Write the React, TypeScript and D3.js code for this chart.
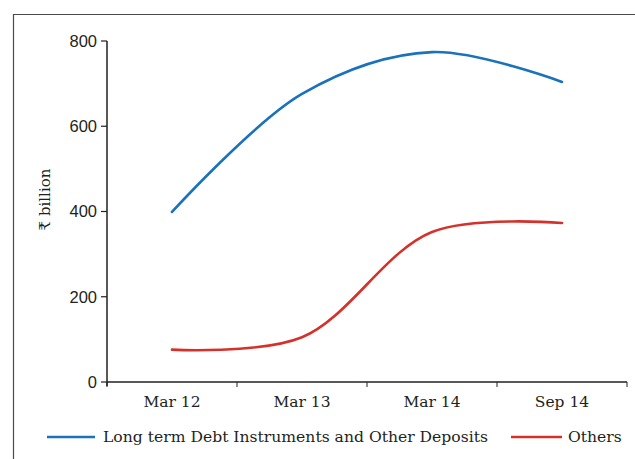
import React from "react";
import * as d3 from "d3";

const categories = ["Mar 12", "Mar 13", "Mar 14", "Sep 14"];
const longTermDebt = [399, 676, 774, 704];
const others = [76, 105, 352, 373];
const yTicks = [0, 200, 400, 600, 800];
const seriesNames = ["Long term Debt Instruments and Other Deposits", "Others"];

const W = 635;
const H = 459;
const plot = { left: 107, right: 627, top: 41, bottom: 382 };
const BLUE = "#1a72bb";
const RED = "#d5312a";
const INK = "#231f20";
const SERIF = "'DejaVu Serif', serif";
const SANS = "'Liberation Sans Narrow', 'Liberation Sans', sans-serif";

export default function App() {
  const x = d3
    .scaleBand<string>()
    .domain(categories)
    .range([plot.left, plot.right]);
  const y = d3.scaleLinear().domain([0, 800]).range([plot.bottom, plot.top]);
  const cx = (c: string) => (x(c) ?? 0) + x.bandwidth() / 2;

  const line = d3
    .line<number>()
    .x((_, i) => cx(categories[i]))
    .y((d) => y(d))
    .curve(d3.curveCatmullRom.alpha(0.5));

  const boundaries = [...categories.map((c) => x(c) ?? 0), plot.right];

  return (
    <svg
      width={W}
      height={H}
      viewBox={`0 0 ${W} ${H}`}
      style={{ position: "absolute", left: 0, top: 0, background: "#fff" }}
    >
      {/* outer frame */}
      <path d={`M13.5,${H + 2} V14.5 H${W + 2}`} fill="none" stroke="#4a4a4a" strokeWidth={1.2} />

      {/* y axis */}
      <line x1={plot.left} x2={plot.left} y1={plot.top} y2={plot.bottom + 4} stroke={INK} strokeWidth={1.5} />
      {yTicks.map((t) => (
        <g key={t}>
          <line x1={plot.left - 6} x2={plot.left} y1={y(t)} y2={y(t)} stroke={INK} strokeWidth={1.2} />
          <text
            x={plot.left - 10}
            y={y(t)}
            dy="0.35em"
            textAnchor="end"
            fontFamily={SANS}
            fontSize={16.5}
            fill={INK}
          >
            {t}
          </text>
        </g>
      ))}
      <text
        transform={`translate(45,${y(400) - 12}) rotate(-90)`}
        textAnchor="middle"
        dy="0.35em"
        fontFamily={SERIF}
        fontSize={15}
        fill={INK}
      >
        ₹ billion
      </text>

      {/* x axis */}
      <line x1={plot.left} x2={plot.right} y1={plot.bottom} y2={plot.bottom} stroke={INK} strokeWidth={1.5} />
      {boundaries.map((b, i) => (
        <line key={i} x1={b} x2={b} y1={plot.bottom} y2={plot.bottom + 5} stroke={INK} strokeWidth={1} />
      ))}
      {categories.map((c) => (
        <text
          key={c}
          x={cx(c)}
          y={plot.bottom + 25}
          textAnchor="middle"
          fontFamily={SERIF}
          fontSize={15.5}
          fill={INK}
        >
          {c}
        </text>
      ))}

      {/* series */}
      <path d={line(longTermDebt) ?? ""} fill="none" stroke={BLUE} strokeWidth={2.6} strokeLinecap="round" />
      <path d={line(others) ?? ""} fill="none" stroke={RED} strokeWidth={2.6} strokeLinecap="round" />

      {/* legend */}
      <line x1={47} x2={95} y1={437} y2={437} stroke={BLUE} strokeWidth={2.6} />
      <text x={103} y={437} dy="0.35em" fontFamily={SERIF} fontSize={15.6} fill={INK}>
        {seriesNames[0]}
      </text>
      <line x1={511} x2={562} y1={437} y2={437} stroke={RED} strokeWidth={2.6} />
      <text x={568} y={437} dy="0.35em" fontFamily={SERIF} fontSize={15.6} fill={INK}>
        {seriesNames[1]}
      </text>
    </svg>
  );
}
